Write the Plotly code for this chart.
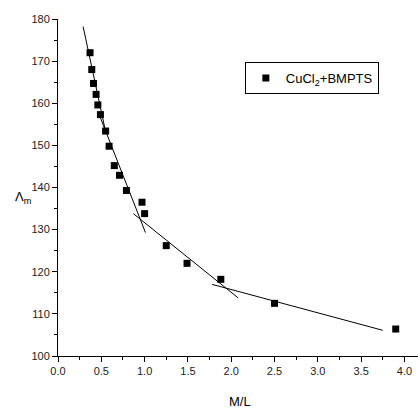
import plotly.graph_objects as go

# Data
ml_ratio = [0.37, 0.39, 0.41, 0.44, 0.46, 0.49, 0.55, 0.59, 0.65, 0.71, 0.79,
            0.97, 1.00, 1.25, 1.49, 1.88, 2.50, 3.90]
molar_cond = [172.0, 168.0, 164.7, 162.1, 159.6, 157.3, 153.4, 149.8, 145.2,
              142.9, 139.3, 136.5, 133.8, 126.2, 122.0, 118.2, 112.5, 106.4]

fit1_x = [0.29, 0.55]
fit1_y = [178.2, 153.2]
fit2_x = [0.47, 1.01]
fit2_y = [157.6, 129.3]
fit3_x = [0.87, 2.08]
fit3_y = [133.8, 113.8]
fit4_x = [1.78, 3.75]
fit4_y = [117.0, 106.1]

x_ticks = [0.0, 0.5, 1.0, 1.5, 2.0, 2.5, 3.0, 3.5, 4.0]
y_ticks = [100, 110, 120, 130, 140, 150, 160, 170, 180]

FONT = "Liberation Sans, Arial, sans-serif"

fig = go.Figure()
for fx, fy in [(fit1_x, fit1_y), (fit2_x, fit2_y), (fit3_x, fit3_y), (fit4_x, fit4_y)]:
    fig.add_trace(go.Scatter(x=fx, y=fy, mode="lines",
                             line=dict(color="black", width=1),
                             showlegend=False, hoverinfo="skip"))

fig.add_trace(go.Scatter(x=ml_ratio, y=molar_cond, mode="markers",
                         name="CuCl<sub>2</sub>+BMPTS",
                         marker=dict(symbol="square", size=7, color="black")))

fig.update_layout(
    width=418, height=408,
    margin=dict(l=58, r=0, t=19, b=52),
    paper_bgcolor="white", plot_bgcolor="white",
    font=dict(family=FONT, color="black"),
    showlegend=True,
    legend=dict(x=0.519, y=0.872, xanchor="left", yanchor="top",
                bordercolor="black", borderwidth=1, bgcolor="white",
                font=dict(size=13, family=FONT, color="black"),
                itemwidth=30),
    xaxis=dict(range=[0, 4.157], tickvals=x_ticks, tickformat=".1f",
               showgrid=False, zeroline=False,
               showline=True, linecolor="black", linewidth=1,
               ticks="outside", ticklen=5, tickcolor="black", tickwidth=1,
               tickfont=dict(size=11, family=FONT, color="#222"),
               minor=dict(dtick=0.25, tick0=0, ticks="outside", ticklen=3,
                          tickcolor="black", showgrid=False)),
    yaxis=dict(range=[100, 180], tickvals=y_ticks,
               showgrid=False, zeroline=False,
               showline=True, linecolor="black", linewidth=1,
               ticks="outside", ticklen=5, tickcolor="black", tickwidth=1,
               tickfont=dict(size=11, family=FONT, color="#222"),
               minor=dict(dtick=5, tick0=100, ticks="outside", ticklen=3,
                          tickcolor="black", showgrid=False)),
    annotations=[
        dict(text="\u039b<sub>m</sub>", xref="paper", yref="paper",
             x=-0.125, y=0.469, xanchor="left", yanchor="middle",
             showarrow=False, font=dict(size=13, family=FONT, color="black")),
        dict(text="M/L", xref="paper", yref="paper",
             x=0.506, y=-0.134, xanchor="center", yanchor="middle",
             showarrow=False, font=dict(size=13, family=FONT, color="black")),
    ],
)

fig.write_html("out.html")
